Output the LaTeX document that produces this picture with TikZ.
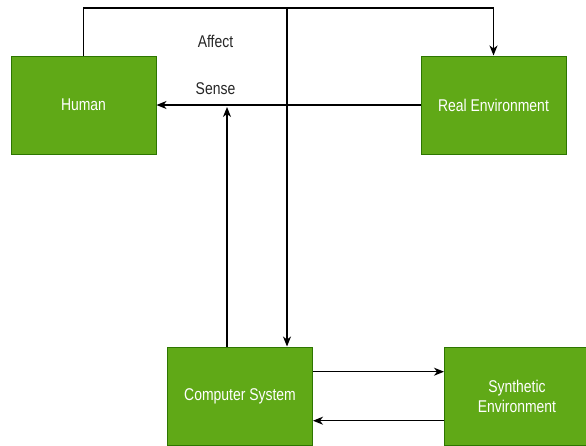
\documentclass[tikz,border=0pt]{standalone}
\usepackage{fontspec}
\setmainfont{Liberation Sans}[FakeStretch=0.82]
\usetikzlibrary{positioning,arrows.meta}
\definecolor{boxgreen}{HTML}{60A917}
\definecolor{boxline}{HTML}{2D7600}

\begin{document}
\begin{tikzpicture}[x=1pt, y=-1pt,
      block/.style={draw=boxline, line width=1pt, fill=boxgreen, text=white, align=center,
                    minimum width=145pt, minimum height=98pt, inner sep=0pt,
                    font=\fontsize{17}{20}\selectfont},
      link/.style={line width=1.2pt, -{Stealth[length=10pt,width=8pt,inset=3pt]}},
      tag/.style={font=\fontsize{17}{20}\selectfont, text=black!85}]
  \useasboundingbox (0,0) rectangle (586,445);
  \node[block] (human) at (83.5,105) {Human};
  \node[block, right=264pt of human] (realenv) {Real Environment};
  \node[block] (computer) at (240,396) {Computer System};
  \node[block, right=131pt of computer] (synthenv) {Synthetic\\Environment};

  \node[tag] (affect) at (215.5,41) {Affect};
  \node[tag] (sense) at (215.5,89) {Sense};

  \coordinate (rail) at (0,8);
  \coordinate (sensein) at (227,107);
  \draw[link] (human.north) -- (human.north |- rail) -| (realenv.north);
  \draw[link] (human.north |- rail) -| ([xshift=47pt]computer.north);
  \draw[link] (realenv.west) -- (human.east);
  \draw[link] ([xshift=-13pt]computer.north) -- (sensein);
  \draw[link] ([yshift=24.3pt]computer.east) -- ([yshift=24.3pt]synthenv.west);
  \draw[link] ([yshift=-24.7pt]synthenv.west) -- ([yshift=-24.7pt]computer.east);
\end{tikzpicture}
\end{document}
